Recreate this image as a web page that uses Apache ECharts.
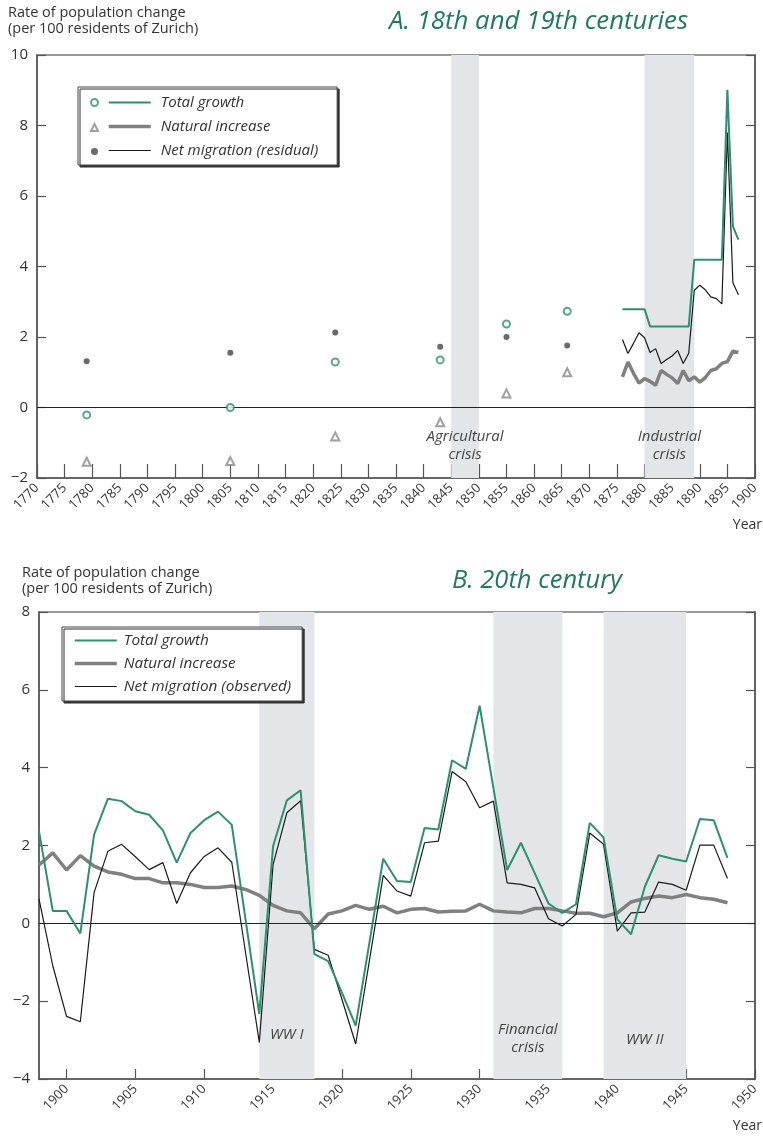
<!DOCTYPE html>
<html>
<head>
<meta charset="utf-8">
<script src="https://cdn.jsdelivr.net/npm/echarts@6/dist/echarts.min.js"></script>
<style>
  html, body { margin: 0; padding: 0; background: #fff; }
  #chart { width: 763px; height: 1138px; }
</style>
</head>
<body>
<div id="chart"></div>
<script>
// ---------- Panel A: 18th and 19th centuries ----------
const pointYears      = [1779, 1805, 1824, 1843, 1855, 1866];
const pointTotal      = [-0.21, 0.00, 1.29, 1.35, 2.37, 2.73];
const pointNatural    = [-1.54, -1.52, -0.82, -0.42, 0.40, 1.00];
const pointMigration  = [1.31, 1.55, 2.13, 1.72, 2.00, 1.76];

const annualYearsA    = [1876, 1877, 1878, 1879, 1880, 1881, 1882, 1883, 1884, 1885, 1886,
                         1887, 1888, 1889, 1890, 1891, 1892, 1893, 1894, 1895, 1896, 1897];
const totalA          = [2.79, 2.79, 2.79, 2.79, 2.79, 2.30, 2.30, 2.30, 2.30, 2.30, 2.30,
                         2.30, 2.30, 4.19, 4.19, 4.19, 4.19, 4.19, 4.19, 9.01, 5.14, 4.76];
const naturalA        = [0.87, 1.29, 0.97, 0.69, 0.82, 0.74, 0.63, 1.05, 0.94, 0.84, 0.68,
                         1.05, 0.76, 0.87, 0.72, 0.85, 1.05, 1.10, 1.25, 1.30, 1.60, 1.56];
const migrationA      = [1.93, 1.53, 1.82, 2.12, 1.98, 1.56, 1.67, 1.25, 1.36, 1.46, 1.62,
                         1.25, 1.54, 3.32, 3.47, 3.34, 3.14, 3.09, 2.94, 7.80, 3.54, 3.20];

const bandsA = [
  { from: 1845, to: 1850, label: 'Agricultural\ncrisis', dist: 14 },
  { from: 1880, to: 1889, label: 'Industrial\ncrisis', dist: 14 }
];

// ---------- Panel B: 20th century ----------
const yearsB = [1898, 1899, 1900, 1901, 1902, 1903, 1904, 1905, 1906, 1907, 1908, 1909,
                1910, 1911, 1912, 1913, 1914, 1915, 1916, 1917, 1918, 1919, 1920, 1921,
                1922, 1923, 1924, 1925, 1926, 1927, 1928, 1929, 1930, 1931, 1932, 1933,
                1934, 1935, 1936, 1937, 1938, 1939, 1940, 1941, 1942, 1943, 1944, 1945,
                1946, 1947, 1948];
const totalB = [2.37, 0.32, 0.32, -0.26, 2.28, 3.20, 3.14, 2.88, 2.79, 2.39, 1.56, 2.32,
                2.65, 2.87, 2.53, 0.10, -2.33, 1.98, 3.16, 3.42, -0.79, -0.97, -1.78, -2.63,
                -0.49, 1.66, 1.09, 1.06, 2.45, 2.41, 4.19, 3.97, 5.59, 3.48, 1.37, 2.07,
                1.29, 0.51, 0.27, 0.49, 2.58, 2.21, 0.10, -0.28, 0.94, 1.75, 1.66, 1.59,
                2.68, 2.65, 1.68];
const naturalB = [1.50, 1.81, 1.37, 1.74, 1.47, 1.32, 1.26, 1.15, 1.15, 1.04, 1.04, 1.00,
                  0.92, 0.92, 0.96, 0.87, 0.72, 0.46, 0.32, 0.27, -0.14, 0.24, 0.32, 0.46,
                  0.36, 0.44, 0.27, 0.36, 0.38, 0.29, 0.31, 0.32, 0.49, 0.32, 0.29, 0.27,
                  0.38, 0.38, 0.32, 0.26, 0.26, 0.17, 0.27, 0.55, 0.64, 0.70, 0.66, 0.74,
                  0.66, 0.62, 0.53];
const migrationB = [0.63, -1.09, -2.39, -2.53, 0.79, 1.85, 2.03, 1.71, 1.38, 1.56, 0.51, 1.30,
                    1.72, 1.94, 1.57, -0.75, -3.06, 1.51, 2.84, 3.15, -0.67, -0.82, -1.95, -3.10,
                    -0.95, 1.23, 0.83, 0.70, 2.07, 2.11, 3.90, 3.64, 2.97, 3.14, 1.04, 1.00,
                    0.91, 0.12, -0.07, 0.23, 2.32, 2.03, -0.20, 0.27, 0.29, 1.06, 1.00, 0.85,
                    2.01, 2.01, 1.15];

const bandsB = [
  { from: 1914, to: 1918, label: 'WW I', dist: 35 },
  { from: 1931, to: 1936, label: 'Financial\ncrisis', dist: 22 },
  { from: 1939, to: 1945, label: 'WW II', dist: 30 }
];
const xTicksB = [1900, 1905, 1910, 1915, 1920, 1925, 1930, 1935, 1940, 1945, 1950];

// ---------- styles ----------
const FONT = '"Open Sans", "Noto Sans", sans-serif';
const GREEN = '#2a9270';
const GRAY = '#808080';
const BLACK = '#1a1a1a';
const TITLE_GREEN = '#1e7b5c';
const AXIS = '#555';
const BAND = '#e4e5e8';

const zip = (xs, ys) => xs.map((x, i) => [x, ys[i]]);
const minus = v => String(v).replace('-', '\u2212');
const plain = v => String(v);

function bandArea(bands) {
  return {
    silent: true,
    itemStyle: { color: BAND, opacity: 1 },
    data: bands.map(b => [
      { xAxis: b.from,
        label: { show: true, position: 'insideBottom', distance: b.dist, formatter: b.label,
                 fontFamily: FONT, fontStyle: 'italic', fontSize: 15, lineHeight: 18, color: '#444' } },
      { xAxis: b.to }
    ])
  };
}
const zeroLine = {
  silent: true, symbol: 'none',
  lineStyle: { color: '#222', width: 1, type: 'solid' },
  label: { show: false },
  data: [{ yAxis: 0 }]
};

function xAxisBase(grid) {
  return {
    type: 'value', gridIndex: grid,
    axisLine: { show: true, onZero: false, lineStyle: { color: AXIS, width: 1.5 } },
    splitLine: { show: false },
    axisLabel: { rotate: 45, fontSize: 13, color: '#333', fontFamily: FONT, margin: 8, formatter: plain },
    name: 'Year', nameLocation: 'end', nameGap: 7,
    nameTextStyle: { fontSize: 14, color: '#333', fontFamily: FONT, align: 'right',
                     verticalAlign: 'top', padding: [40, 0, 0, 0] }
  };
}
function yAxisLeft(grid, min, max) {
  return {
    type: 'value', gridIndex: grid, min, max, interval: 2,
    axisLine: { show: true, lineStyle: { color: AXIS, width: 1.5 } },
    axisTick: { show: true, inside: true, length: 9, lineStyle: { color: AXIS, width: 1.2 } },
    axisLabel: { fontSize: 15, color: '#333', fontFamily: FONT, margin: 9, formatter: minus },
    splitLine: { show: false }
  };
}
function yAxisRight(grid, min, max) {
  return {
    type: 'value', gridIndex: grid, min, max, interval: 2, position: 'right',
    axisLine: { show: true, lineStyle: { color: AXIS, width: 1.5 } },
    axisTick: { show: true, inside: true, length: 9, lineStyle: { color: AXIS, width: 1.2 } },
    axisLabel: { show: false },
    splitLine: { show: false }
  };
}

const chart = echarts.init(document.getElementById('chart'), null, { renderer: 'canvas' });

const legendTextStyle = (size, padLeft) => ({
  fontSize: size, fontStyle: 'italic', color: '#333', fontFamily: FONT, padding: [0, 0, 0, padLeft]
});

const option = {
  animation: false,
  backgroundColor: '#fff',
  textStyle: { fontFamily: FONT },
  title: [
    { text: 'Rate of population change\n(per 100 residents of Zurich)', left: 8, top: 5, padding: 0,
      textStyle: { fontSize: 14.5, fontWeight: 'normal', color: '#333', lineHeight: 16, fontFamily: FONT } },
    { text: 'A. 18th and 19th centuries', left: 389, top: 7, padding: 0,
      textStyle: { fontSize: 25.8, fontWeight: 'normal', fontStyle: 'italic', color: TITLE_GREEN, lineHeight: 30, fontFamily: FONT } },
    { text: 'Rate of population change\n(per 100 residents of Zurich)', left: 22, top: 565, padding: 0,
      textStyle: { fontSize: 14.5, fontWeight: 'normal', color: '#333', lineHeight: 16, fontFamily: FONT } },
    { text: 'B. 20th century', left: 452, top: 566, padding: 0,
      textStyle: { fontSize: 25.5, fontWeight: 'normal', fontStyle: 'italic', color: TITLE_GREEN, lineHeight: 30, fontFamily: FONT } }
  ],
  legend: [
    { // panel A lines
      data: ['Total growth', 'Natural increase', 'Net migration (residual)'],
      orient: 'vertical', left: 78, top: 87, padding: [8, 19, 7, 29],
      itemWidth: 42, itemHeight: 14, itemGap: 9, selectedMode: false,
      itemStyle: { opacity: 0, color: 'transparent', borderWidth: 0 },
      lineStyle: { width: 'inherit' },
      backgroundColor: '#fff', borderColor: '#444', borderWidth: 1,
      shadowColor: '#333', shadowBlur: 0, shadowOffsetX: 2, shadowOffsetY: 2,
      textStyle: legendTextStyle(15, 5)
    },
    { // panel A point symbols
      data: ['Total growth (points)', 'Natural increase (points)', 'Net migration (points)'],
      orient: 'vertical', left: 90, top: 98, padding: 0, z: 10,
      itemWidth: 7, itemHeight: 7, itemGap: 16, selectedMode: false,
      formatter: () => '',
      textStyle: { fontSize: 7, lineHeight: 7 }
    },
    { // panel B lines
      data: ['Total growth', 'Natural increase', 'Net migration (observed)'],
      orient: 'vertical', left: 62, top: 627, padding: [6, 11, 7, 11],
      itemWidth: 42, itemHeight: 17, itemGap: 8, selectedMode: false,
      itemStyle: { opacity: 0, color: 'transparent', borderWidth: 0 },
      lineStyle: { width: 'inherit' },
      backgroundColor: '#fff', borderColor: '#444', borderWidth: 1,
      shadowColor: '#333', shadowBlur: 0, shadowOffsetX: 2, shadowOffsetY: 2,
      textStyle: legendTextStyle(15.3, 2)
    }
  ],
  grid: [
    { left: 37, right: 8, top: 55, height: 423, show: true, borderColor: '#777', borderWidth: 1.5 },
    { left: 39, right: 7, top: 612, height: 467, show: true, borderColor: '#777', borderWidth: 1.5 }
  ],
  xAxis: [
    Object.assign(xAxisBase(0), {
      min: 1770, max: 1900, interval: 5,
      axisTick: { show: true, inside: true, length: 14, lineStyle: { color: AXIS, width: 1.2 } }
    }),
    Object.assign(xAxisBase(1), {
      min: 1898, max: 1950,
      axisTick: { show: true, inside: true, length: 10, customValues: xTicksB, lineStyle: { color: AXIS, width: 1.2 } }
    })
  ],
  yAxis: [
    yAxisLeft(0, -2, 10), yAxisRight(0, -2, 10),
    yAxisLeft(1, -4, 8), yAxisRight(1, -4, 8)
  ],
  series: [
    // ---- panel A ----
    { type: 'line', name: 'bandsA', xAxisIndex: 0, yAxisIndex: 0, data: [], z: 1, markArea: bandArea(bandsA) },
    { type: 'line', name: 'zeroA', xAxisIndex: 0, yAxisIndex: 0, data: [], z: 2, markLine: zeroLine },
    { type: 'line', name: 'Natural increase', xAxisIndex: 0, yAxisIndex: 0, z: 3,
      data: zip(annualYearsA, naturalA), symbol: 'none',
      lineStyle: { color: GRAY, width: 3.5 }, itemStyle: { color: GRAY } },
    { type: 'line', name: 'Net migration (residual)', xAxisIndex: 0, yAxisIndex: 0, z: 4,
      data: zip(annualYearsA, migrationA), symbol: 'none',
      lineStyle: { color: BLACK, width: 1.2 }, itemStyle: { color: BLACK } },
    { type: 'line', name: 'Total growth', xAxisIndex: 0, yAxisIndex: 0, z: 5,
      data: zip(annualYearsA, totalA), symbol: 'none',
      lineStyle: { color: GREEN, width: 2 }, itemStyle: { color: GREEN } },
    { type: 'scatter', name: 'Total growth (points)', xAxisIndex: 0, yAxisIndex: 0, z: 6,
      data: zip(pointYears, pointTotal), symbol: 'emptyCircle', symbolSize: 7,
      itemStyle: { color: GREEN, borderColor: GREEN, borderWidth: 1.2 } },
    { type: 'scatter', name: 'Natural increase (points)', xAxisIndex: 0, yAxisIndex: 0, z: 6,
      data: zip(pointYears, pointNatural), symbol: 'emptyTriangle', symbolSize: 8,
      itemStyle: { color: '#888', borderColor: '#888', borderWidth: 1.2 } },
    { type: 'scatter', name: 'Net migration (points)', xAxisIndex: 0, yAxisIndex: 0, z: 6,
      data: zip(pointYears, pointMigration), symbol: 'circle', symbolSize: 6,
      itemStyle: { color: '#444' } },
    // ---- panel B ----
    { type: 'line', name: 'bandsB', xAxisIndex: 1, yAxisIndex: 2, data: [], z: 1, markArea: bandArea(bandsB) },
    { type: 'line', name: 'zeroB', xAxisIndex: 1, yAxisIndex: 2, data: [], z: 2, markLine: zeroLine },
    { type: 'line', name: 'Natural increase', xAxisIndex: 1, yAxisIndex: 2, z: 3,
      data: zip(yearsB, naturalB), symbol: 'none',
      lineStyle: { color: GRAY, width: 3.5 }, itemStyle: { color: GRAY } },
    { type: 'line', name: 'Net migration (observed)', xAxisIndex: 1, yAxisIndex: 2, z: 4,
      data: zip(yearsB, migrationB), symbol: 'none',
      lineStyle: { color: BLACK, width: 1.2 }, itemStyle: { color: BLACK } },
    { type: 'line', name: 'Total growth', xAxisIndex: 1, yAxisIndex: 2, z: 5,
      data: zip(yearsB, totalB), symbol: 'none',
      lineStyle: { color: GREEN, width: 2 }, itemStyle: { color: GREEN } }
  ]
};
option.xAxis[1].axisLabel = Object.assign({}, option.xAxis[1].axisLabel, { customValues: xTicksB });

chart.setOption(option);
</script>
</body>
</html>
